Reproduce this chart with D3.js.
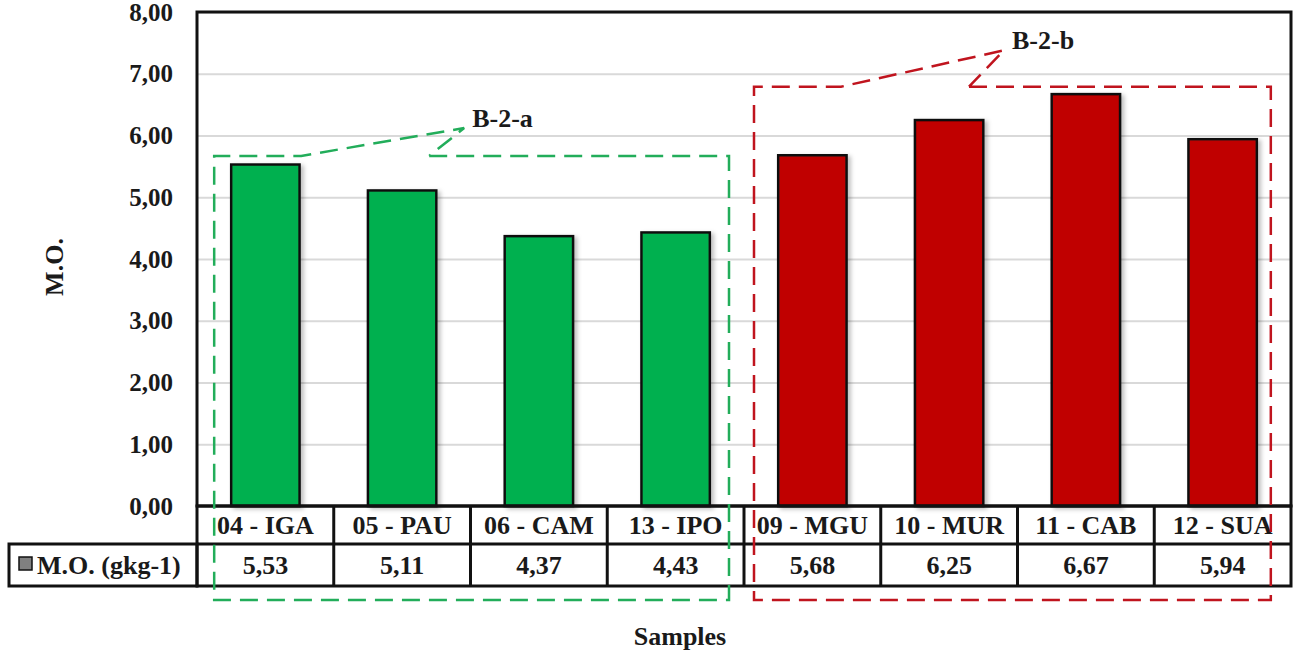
<!DOCTYPE html>
<html>
<head>
<meta charset="utf-8">
<script src="https://cdn.jsdelivr.net/npm/d3@7"></script>
<style>
  body { margin: 0; background: #fff; }
  text { font-family: "Liberation Serif", "Times New Roman", serif; font-weight: bold; fill: #1a1a1a; }
</style>
</head>
<body>
<div id="chart"></div>
<script>
// chart data
const categories = ["04 - IGA", "05 - PAU", "06 - CAM", "13 - IPO", "09 - MGU", "10 - MUR", "11 - CAB", "12 - SUA"];
const values = [5.53, 5.11, 4.37, 4.43, 5.68, 6.25, 6.67, 5.94];
const groupOf = ["a", "a", "a", "a", "b", "b", "b", "b"];
const yTicks = [0, 1, 2, 3, 4, 5, 6, 7, 8];
const seriesName = "M.O. (gkg-1)";
const yTitle = "M.O.";
const xTitle = "Samples";

// callout groups (label, boxed categories, box top / pointer tip in data units)
const groupLabels = ["B-2-a", "B-2-b"];
const groupKeys = ["a", "b"];
const groupTop = [5.67, 6.79];
const groupTip = [6.12, 7.38];

const colors = { a: "#00b050", b: "#c00000" };
const dashColors = { a: "#22ad5a", b: "#c0141e" };

const W = 1300, H = 655;
const plot = { left: 197, right: 1291, top: 12, bottom: 506 };
const row1 = 544, row2 = 586, labelLeft = 9;

const svg = d3.select("#chart").append("svg")
  .attr("width", W)
  .attr("height", H);

const defs = svg.append("defs");
const shadow = defs.append("filter").attr("id", "shadow")
  .attr("x", "-20%").attr("y", "-20%").attr("width", "150%").attr("height", "150%");
shadow.append("feDropShadow")
  .attr("dx", 3).attr("dy", 2).attr("stdDeviation", 2)
  .attr("flood-color", "#000").attr("flood-opacity", 0.25);

const x = d3.scaleBand().domain(categories)
  .range([plot.left, plot.right])
  .paddingInner(0.5).paddingOuter(0.25);
const step = x.step();
const colLeft = c => x(c) - step * 0.25;

const y = d3.scaleLinear().domain([0, 8]).range([plot.bottom, plot.top]);

const locale = d3.formatLocale({ decimal: ",", thousands: ".", grouping: [3], currency: ["", ""] });
const fmt = locale.format(".2f");

// gridlines
svg.append("g")
  .attr("transform", `translate(${plot.left},0)`)
  .call(d3.axisLeft(y).tickValues(yTicks).tickSize(-(plot.right - plot.left)).tickFormat(""))
  .call(g => g.select(".domain").remove())
  .call(g => g.selectAll("line").attr("stroke", "#d9d9d9").attr("stroke-width", 2));

// y axis labels
svg.append("g")
  .attr("transform", `translate(${plot.left},0)`)
  .call(d3.axisLeft(y).tickValues(yTicks).tickSize(0).tickPadding(24).tickFormat(fmt))
  .call(g => g.select(".domain").remove())
  .call(g => g.selectAll("text").style("font-size", "25px").attr("fill", "#1a1a1a"));

// bars
svg.append("g").selectAll("rect")
  .data(categories)
  .join("rect")
  .attr("x", d => x(d))
  .attr("y", (d, i) => y(values[i]))
  .attr("width", x.bandwidth())
  .attr("height", (d, i) => y(0) - y(values[i]))
  .attr("fill", (d, i) => colors[groupOf[i]])
  .attr("stroke", "#111")
  .attr("stroke-width", 2.5)
  .attr("filter", "url(#shadow)");

// plot border
svg.append("rect")
  .attr("x", plot.left).attr("y", plot.top)
  .attr("width", plot.right - plot.left).attr("height", plot.bottom - plot.top)
  .attr("fill", "none").attr("stroke", "#111").attr("stroke-width", 3);

// data table
const table = svg.append("g").attr("stroke", "#111").attr("stroke-width", 3);
table.append("rect")
  .attr("x", plot.left).attr("y", plot.bottom)
  .attr("width", plot.right - plot.left).attr("height", row2 - plot.bottom)
  .attr("fill", "none");
table.append("rect")
  .attr("x", labelLeft).attr("y", row1)
  .attr("width", plot.left - labelLeft).attr("height", row2 - row1)
  .attr("fill", "none");
table.append("line")
  .attr("x1", plot.left).attr("x2", plot.right)
  .attr("y1", row1).attr("y2", row1);
table.selectAll(".sep")
  .data(categories.slice(1))
  .join("line")
  .attr("class", "sep")
  .attr("x1", d => colLeft(d)).attr("x2", d => colLeft(d))
  .attr("y1", plot.bottom).attr("y2", row2);

svg.append("g").selectAll("text")
  .data(categories)
  .join("text")
  .attr("x", d => x(d) + x.bandwidth() / 2)
  .attr("y", 534)
  .attr("text-anchor", "middle")
  .style("font-size", "26px")
  .text(d => d);

svg.append("g").selectAll("text")
  .data(categories)
  .join("text")
  .attr("x", d => x(d) + x.bandwidth() / 2)
  .attr("y", 574)
  .attr("text-anchor", "middle")
  .style("font-size", "26px")
  .text((d, i) => fmt(values[i]));

// legend key in table
svg.append("rect")
  .attr("x", 19).attr("y", 557).attr("width", 13).attr("height", 13)
  .attr("fill", "#808080").attr("stroke", "#111").attr("stroke-width", 1.5);
svg.append("text")
  .attr("x", 37).attr("y", 574)
  .style("font-size", "26px")
  .text(seriesName);

// axis titles
svg.append("text")
  .attr("transform", `translate(63,${(plot.top + plot.bottom) / 2 + 8}) rotate(-90)`)
  .attr("text-anchor", "middle")
  .style("font-size", "26px")
  .text(yTitle);

svg.append("text")
  .attr("x", 680).attr("y", 645)
  .attr("text-anchor", "middle")
  .style("font-size", "26px")
  .text(xTitle);

// dashed callout boxes around each group
groupKeys.forEach((key, gi) => {
  const members = categories.filter((c, i) => groupOf[i] === key);
  const first = members[0], last = members[members.length - 1];
  const left = gi === 0 ? x(first) - 17 : colLeft(first) + 10;
  const right = gi === 0 ? colLeft(last) + step - 15 : x(last) + x.bandwidth() + 14;
  const top = y(groupTop[gi]);
  const bottom = 600;
  const tipX = left + 250, tipY = y(groupTip[gi]);
  const gapA = left + 87, gapB = left + 215;

  const path = d3.path();
  path.moveTo(gapB, top);
  path.lineTo(right, top);
  path.lineTo(right, bottom);
  path.lineTo(left, bottom);
  path.lineTo(left, top);
  path.lineTo(gapA, top);
  path.lineTo(tipX, tipY);
  path.lineTo(gapB, top);

  svg.append("path")
    .attr("d", path.toString())
    .attr("fill", "none")
    .attr("stroke", dashColors[key])
    .attr("stroke-width", 2.5)
    .attr("stroke-dasharray", "18,9");

  svg.append("text")
    .attr("x", tipX + 8)
    .attr("y", tipY - 1)
    .style("font-size", "26px")
    .text(groupLabels[gi]);
});
</script>
</body>
</html>
